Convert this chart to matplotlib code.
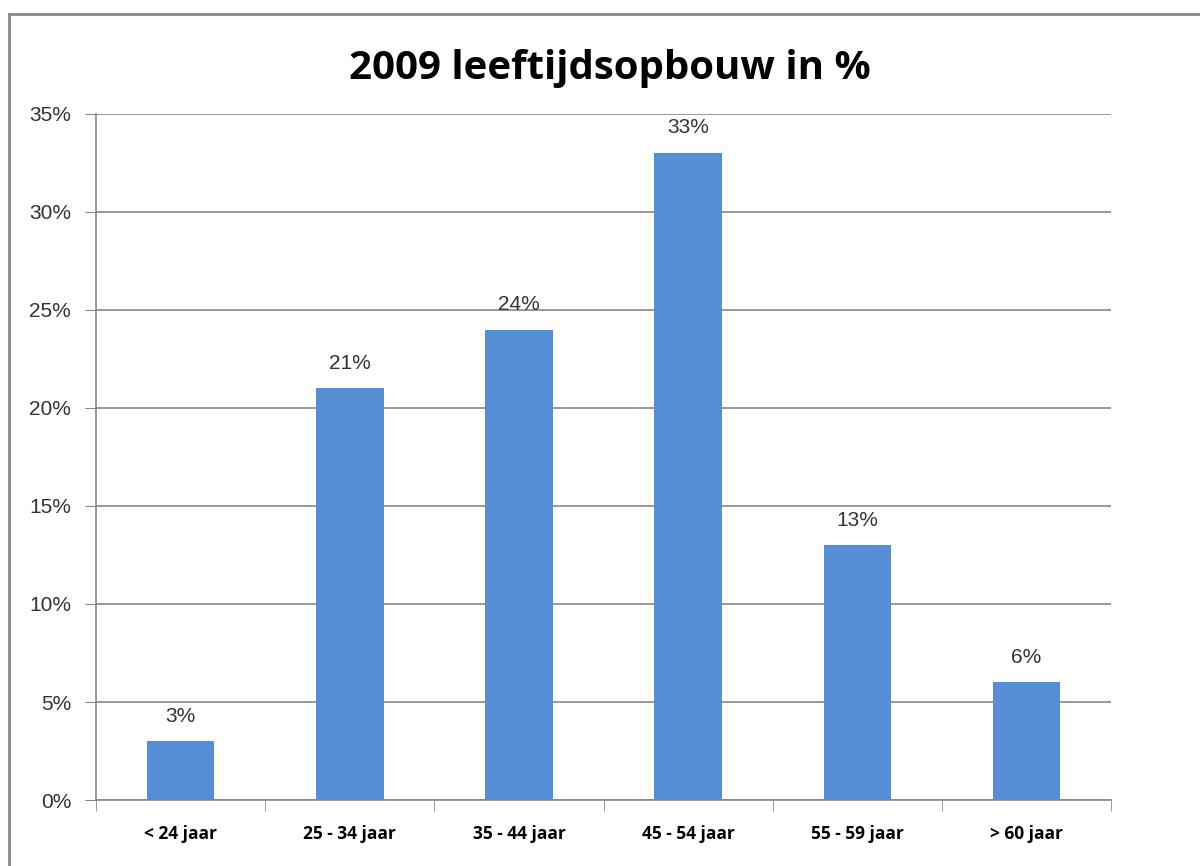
import matplotlib
matplotlib.use("Agg")
import matplotlib.pyplot as plt
from matplotlib.lines import Line2D
import numpy as np

categories = ["< 24 jaar", "25 - 34 jaar", "35 - 44 jaar", "45 - 54 jaar", "55 - 59 jaar", "> 60 jaar"]
values = [3, 21, 24, 33, 13, 6]
yticks = [0, 5, 10, 15, 20, 25, 30, 35]
title = "2009 leeftijdsopbouw in %"

bar_color = "#558ed5"
grid_color = "#888888"

fig = plt.figure(figsize=(12, 8.66), dpi=100)
ax = fig.add_axes([0.08, 0.0762, 0.846, 0.7922])

x = np.arange(len(categories))
ax.bar(x, values, width=0.4, color=bar_color, zorder=3)

for xi, v in zip(x, values):
	ax.text(xi, v + 0.8, f"{v}%", ha="center", va="bottom", fontsize=15, color="#333333", family="Liberation Sans")

ax.set_xlim(-0.5, len(categories) - 0.5)
ax.set_ylim(0, 35)
ax.set_yticks(yticks)
ax.set_yticklabels([f"{t}%" for t in yticks], fontsize=15, color="#333333", family="Liberation Sans")
ax.set_xticks(x)
ax.set_xticklabels(categories, fontsize=12.5, fontweight="bold", family="Open Sans")
ax.tick_params(axis="x", length=0, pad=18)
ax.tick_params(axis="y", length=8, color=grid_color, pad=10)

# boundary ticks between categories
ax.set_xticks(np.arange(-0.5, len(categories)), minor=True)
ax.tick_params(axis="x", which="minor", length=8, color=grid_color, direction="out")

ax.grid(axis="y", color=grid_color, linewidth=1.2, zorder=0)
for side in ["top", "right"]:
	ax.spines[side].set_visible(False)
for side in ["left", "bottom"]:
	ax.spines[side].set_color(grid_color)
	ax.spines[side].set_linewidth(1.2)

fig.text(0.508, 0.921, title, ha="center", va="center", fontsize=29, fontweight="bold", family="Open Sans")

# outer chart border (left and top)
fig.add_artist(Line2D([0.0075, 0.0075], [0, 0.984], transform=fig.transFigure, color="#888888", linewidth=2))
fig.add_artist(Line2D([0.0075, 1.0], [0.984, 0.984], transform=fig.transFigure, color="#888888", linewidth=2))

fig.savefig("out.png", dpi=100)
